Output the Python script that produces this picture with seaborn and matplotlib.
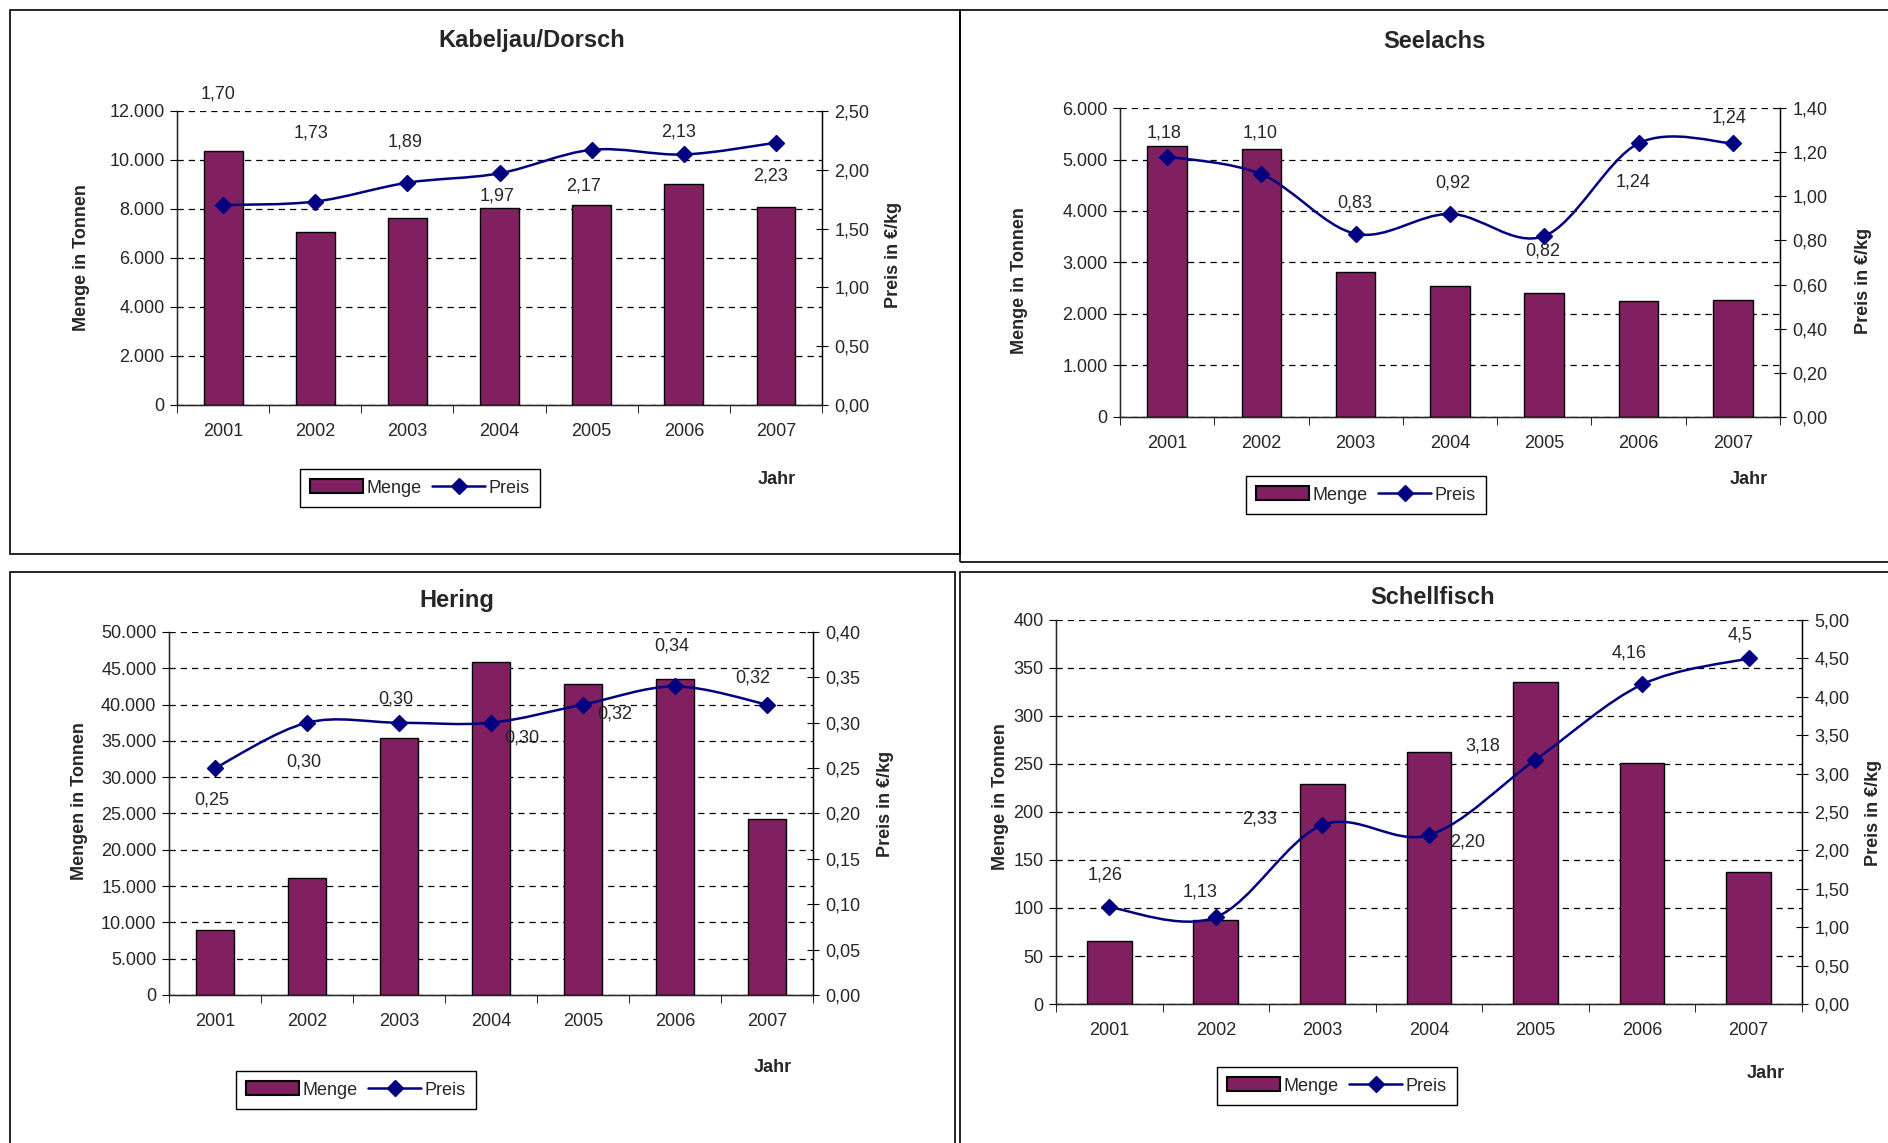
import numpy as np
import matplotlib
matplotlib.use('Agg')
from matplotlib import pyplot as plt
from matplotlib.path import Path
from matplotlib.patches import PathPatch, Rectangle, Patch
from matplotlib.lines import Line2D
from matplotlib.ticker import FuncFormatter, FixedLocator
import seaborn as sns

sns.set_style('white')
plt.rcParams['font.family'] = ['Liberation Sans', 'DejaVu Sans']

BAR = '#802060'
NAVY = '#000080'

years = ['2001', '2002', '2003', '2004', '2005', '2006', '2007']

kabeljau_menge = [10380, 7080, 7620, 8020, 8170, 9000, 8070]
kabeljau_preis = [1.70, 1.73, 1.89, 1.97, 2.17, 2.13, 2.23]
kabeljau_labels = ['1,70', '1,73', '1,89', '1,97', '2,17', '2,13', '2,23']

seelachs_menge = [5270, 5200, 2810, 2550, 2410, 2250, 2270]
seelachs_preis = [1.18, 1.10, 0.83, 0.92, 0.82, 1.24, 1.24]
seelachs_labels = ['1,18', '1,10', '0,83', '0,92', '0,82', '1,24', '1,24']

hering_menge = [8970, 16100, 35400, 45800, 42900, 43500, 24300]
hering_preis = [0.25, 0.30, 0.30, 0.30, 0.32, 0.34, 0.32]
hering_labels = ['0,25', '0,30', '0,30', '0,30', '0,32', '0,34', '0,32']

schell_menge = [66, 88, 229, 262, 335, 251, 137]
schell_preis = [1.26, 1.13, 2.33, 2.20, 3.18, 4.16, 4.5]
schell_labels = ['1,26', '1,13', '2,33', '2,20', '3,18', '4,16', '4,5']

# label offsets in points (dx, dy), mimic the excel label placement
kabeljau_off = [(-4, 80), (-3, 49), (-2, 29), (-2, -16), (-6, -26), (-4, 16), (-4, -24)]
seelachs_off = [(-2, 17), (-1, 30), (-1, 22), (2, 22), (-1, -11), (-4, -28), (-3, 18)]
hering_off = [(-2, -23), (-2, -28), (-2, 17), (22, -11), (23, -7), (-2, 29), (-10, 19)]
schell_off = [(-3, 23), (-11, 18), (-45, 4), (28, -5), (-38, 10), (-9, 23), (-6, 17)]


def smooth_path(xs, ys):
    # excel style smoothed line (catmull-rom as bezier)
    pts = np.column_stack([xs, ys]).astype(float)
    n = len(pts)
    verts = [pts[0]]
    codes = [Path.MOVETO]
    for i in range(n - 1):
        p0 = pts[max(i - 1, 0)]
        p1 = pts[i]
        p2 = pts[i + 1]
        p3 = pts[min(i + 2, n - 1)]
        verts += [p1 + (p2 - p0) / 6, p2 - (p3 - p1) / 6, p2]
        codes += [Path.CURVE4] * 3
    return Path(verts, codes)


def de_thousands(v, pos):
    return '{:,}'.format(int(round(v))).replace(',', '.')


def de_dec(v, pos):
    return '{:.2f}'.format(v).replace('.', ',')


def panel(fig, rect, title, title_xy, menge, preis, labels, offsets,
          lmax, lstep, rmax, rstep, ylabel, ylabel_xy, rlabel_xy, leg_xy, jahr_xy):
    ax = fig.add_axes(rect)
    sns.barplot(x=years, y=menge, color=BAR, saturation=1, width=0.42,
                edgecolor='black', linewidth=1, ax=ax)
    ax.set_xlim(-0.5, 6.5)
    ax.set_ylim(0, lmax)
    ax.yaxis.set_major_locator(FixedLocator(np.arange(0, lmax + lstep / 2, lstep)))
    ax.yaxis.set_major_formatter(FuncFormatter(de_thousands))
    ax.set_axisbelow(True)
    ax.yaxis.grid(True, linestyle=(0, (5, 4)), color='black', lw=0.9)
    ax.set_xlabel('')
    ax.set_ylabel('')
    ax.spines['top'].set_visible(False)
    for s in ['left', 'right', 'bottom']:
        ax.spines[s].set_color('black')
        ax.spines[s].set_linewidth(1)
    ax.tick_params(axis='x', which='major', length=0, pad=13, labelsize=13)
    ax.set_xticks(np.arange(-0.5, 7, 1), minor=True)
    ax.tick_params(axis='x', which='minor', length=6, direction='out', color='black', bottom=True)
    ax.tick_params(axis='y', length=5, direction='out', pad=4, labelsize=13, color='black', left=True)

    ax2 = ax.twinx()
    ax2.set_ylim(0, rmax)
    ax2.yaxis.set_major_locator(FixedLocator(np.arange(0, rmax + rstep / 2, rstep)))
    ax2.yaxis.set_major_formatter(FuncFormatter(de_dec))
    ax2.tick_params(axis='y', length=8, direction='inout', pad=5, labelsize=13, color='black')
    ax2.spines['top'].set_visible(False)
    ax2.spines['right'].set_color('black')
    ax2.grid(False)
    xs = np.arange(len(preis))
    ax2.add_patch(PathPatch(smooth_path(xs, preis), fill=False, edgecolor=NAVY, lw=1.8))
    ax2.plot(xs, preis, linestyle='none', marker='D', ms=8.5, color=NAVY)
    for x, y, lab, off in zip(xs, preis, labels, offsets):
        ax2.annotate(lab, (x, y), xytext=off, textcoords='offset points',
                     ha='center', va='center', fontsize=13)

    W, H = fig.get_size_inches() * fig.dpi
    fig.text(title_xy[0] / W, 1 - title_xy[1] / H, title, ha='center', va='center',
             fontsize=17, fontweight='bold')
    fig.text(ylabel_xy[0] / W, 1 - ylabel_xy[1] / H, ylabel, rotation=90, ha='center',
             va='center', fontsize=13, fontweight='bold')
    fig.text(rlabel_xy[0] / W, 1 - rlabel_xy[1] / H, 'Preis in €/kg', rotation=90,
             ha='center', va='center', fontsize=13, fontweight='bold')
    fig.text(jahr_xy[0] / W, 1 - jahr_xy[1] / H, 'Jahr', ha='center', va='center',
             fontsize=13, fontweight='bold')
    handles = [Patch(facecolor=BAR, edgecolor='black', lw=1.5),
               Line2D([0], [0], color=NAVY, lw=1.8, marker='D', ms=8.5)]
    fig.legend(handles, ['Menge', 'Preis'], loc='center',
               bbox_to_anchor=(leg_xy[0] / W, 1 - leg_xy[1] / H), ncol=2,
               fontsize=13, frameon=True, fancybox=False, edgecolor='black',
               framealpha=1, handlelength=2.9, handleheight=0.8,
               columnspacing=0.6, handletextpad=0.2, borderpad=0.6)
    return ax, ax2


fig = plt.figure(figsize=(18.88, 11.43), dpi=100)
fig.patch.set_facecolor('white')

# panel frames
for x0, y0, w, h in [(10, 10, 950, 544), (960, 10, 940, 552),
                     (10, 572, 945, 580), (960, 572, 940, 580)]:
    fig.patches.append(Rectangle((x0 / 1888, 1 - (y0 + h) / 1143), w / 1888, h / 1143,
                                 transform=fig.transFigure, fill=False,
                                 edgecolor='black', lw=1.2))

panel(fig, [0.0938, 0.6457, 0.3416, 0.2572], 'Kabeljau/Dorsch', (532, 41),
      kabeljau_menge, kabeljau_preis, kabeljau_labels, kabeljau_off,
      12000, 2000, 2.5, 0.5, 'Menge in Tonnen', (81, 258), (893, 255), (420, 488), (777, 479))
panel(fig, [0.5932, 0.6352, 0.3496, 0.2703], 'Seelachs', (1434, 41),
      seelachs_menge, seelachs_preis, seelachs_labels, seelachs_off,
      6000, 1000, 1.4, 0.2, 'Menge in Tonnen', (1020, 281), (1863, 281), (1366, 495), (1749, 480))
panel(fig, [0.0895, 0.1295, 0.3411, 0.3176], 'Hering', (457, 600),
      hering_menge, hering_preis, hering_labels, hering_off,
      50000, 5000, 0.4, 0.05, 'Mengen in Tonnen', (79, 801), (886, 804), (356, 1090), (773, 1068))
panel(fig, [0.5593, 0.1216, 0.3951, 0.336], 'Schellfisch', (1433, 597),
      schell_menge, schell_preis, schell_labels, schell_off,
      400, 50, 5.0, 0.5, 'Menge in Tonnen', (1000, 797), (1873, 813), (1337, 1086), (1766, 1074))

fig.savefig('out.png', dpi=100, facecolor='white')
